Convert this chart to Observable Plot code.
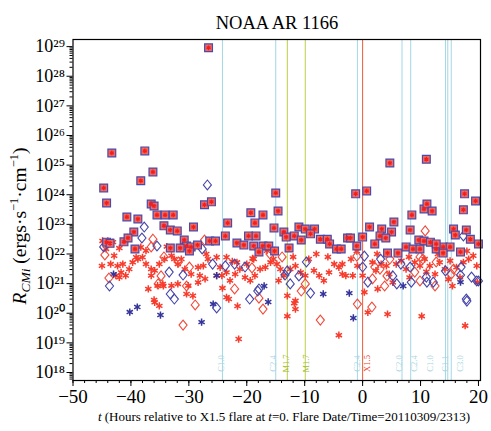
<!DOCTYPE html>
<html><head><meta charset="utf-8">
<script src="https://cdn.jsdelivr.net/npm/d3@7"></script>
<script src="https://cdn.jsdelivr.net/npm/@observablehq/plot@0.6"></script>
<style>
body{margin:0;background:#fff} svg{display:block}
</style>
</head><body><div id="chart"></div>
<script>
const SERIF = "Liberation Serif";
// Flares (hours relative to X1.5 flare)
const flareT      = [-24.2, -15, -13, -9.9, -0.9, 0, 6.8, 8.3, 14.3, 14.7, 15.3];
const flareClass  = ["C1.0","C2.4","M1.7","M1.7","C2.4","X1.5","C2.0","C2.4","C1.0","C1.1","C3.0"];
const flareLabelT = [-24, -15, -12.7, -9.2, -0.5, 1.2, 6.8, 9.4, 12.2, 14.8, 17.4];

// Squares (blue outline, red centre): t, log10 value
const squareT = [-26.6,-43.3,-37.6,-36.2,-38.3,-44.7,-44.2,-36.5,-36.0,-40.7,-38.8,-35.5,-34.1,-32.7,-34.3,-33.2,-32.0,-29.2,-27.3,-39.5,-41.2,-40.5,-44.2,-43.6,-39.3,-33.2,-30.8,-30.4,-29.6,-31.5,-29.9,-28.5,-26.4,-25.4,-26.1,-23.3,-15.0,-14.6,-19.3,-17.2,-18.6,-23.7,-21.7,-20.5,-19.7,-18.4,-18.8,-17.2,-17.9,-16.2,-15.3,-13.6,-13.2,-11.8,-11.0,-9.9,-8.3,-9.0,-10.6,-7.3,-6.1,-12.7,-15.2,-5.7,-4.5,-3.7,4.7,11.0,-1.2,0.7,8.5,10.6,11.1,12.0,17.6,19.5,17.4,5.4,1.2,3.3,5.0,8.2,-2.6,-2.1,0.0,3.0,4.0,2.1,-1.0,9.7,10.6,11.7,15.7,17.9,18.6,16.0,20.0,4.3,6.1,7.5,8.7,9.9,12.7,13.9,15.1,16.9,12.7,13.9];
const squareE = [28.96,25.41,25.48,24.77,24.47,24.23,23.72,23.69,23.62,23.25,23.18,23.32,23.32,23.32,22.95,22.81,22.78,22.91,23.66,22.74,22.41,22.54,22.40,22.36,22.17,22.20,22.47,22.27,22.24,22.20,22.10,22.30,22.44,22.44,23.76,23.05,24.06,23.45,23.39,23.32,23.05,22.61,22.37,22.30,22.61,22.61,22.27,22.27,22.07,22.27,22.88,22.74,22.57,22.61,22.91,22.84,22.84,22.68,22.47,22.50,22.50,22.20,22.10,22.34,22.17,22.17,25.07,25.20,24.03,24.13,23.32,23.52,23.69,23.45,24.03,23.79,23.49,23.08,22.91,22.84,22.74,22.81,22.54,22.54,22.57,22.61,22.54,22.34,22.27,22.47,22.44,22.40,22.84,22.81,22.50,22.64,22.34,22.03,22.03,22.24,22.17,22.17,22.17,22.24,22.24,22.07,22.34,22.03];

// Blue diamonds
const blueDiamondT = [-26.8,-37.7,-38.1,-44.7,-35.5,-43.7,-33.4,-31.0,-33.2,-32.5,-27.7,-23.7,-22.1,-20.3,-25.2,-19.5,-18.1,-25.9,-12.5,-11.0,-9.7,-9.0,-13.0,0.0,0.3,0.9,3.1,5.2,8.2,8.4,11.0,12.2,17.0,17.4,17.9,18.8,19.7,6.6,14.3,-13.4,-17.9,5.9,11.1,16.9,18.0,20.0];
const blueDiamondE = [24.33,22.91,22.54,22.24,22.27,20.92,21.39,21.29,20.65,20.48,22.17,21.60,21.66,21.56,20.18,20.48,20.75,21.66,20.99,21.26,21.73,20.68,21.43,21.56,21.93,21.05,21.83,21.26,21.56,21.05,21.22,21.05,21.56,22.61,20.48,21.22,21.09,21.66,21.43,21.29,20.82,20.99,21.05,21.29,20.41,21.09];

// Red diamonds
const redDiamondT = [-44.5,-43.8,-36.5,-36.2,-34.3,-31.8,-29.9,-27.3,-30.4,-28.9,-31.0,-34.8,-35.3,-22.1,-17.9,-17.2,-19.1,-10.6,-9.9,-7.3,-13.9,-16.0,-0.9,1.6,-1.0,3.0,4.2,10.8,10.4,12.5,15.7,1.7,2.1,3.8,9.0,9.9,15.3,12.7,9.9,4.7];
const redDiamondE = [21.97,21.19,22.24,22.50,21.90,21.73,21.56,22.47,20.92,20.28,19.60,21.26,20.99,20.82,20.51,20.14,21.53,20.75,20.99,19.77,21.90,22.00,20.31,20.21,21.93,21.49,21.26,22.78,21.83,20.92,21.49,21.16,21.56,20.92,21.39,21.09,21.32,21.73,21.90,21.83];

// Blue asterisks
const blueAstT = [-40.2,-38.9,-34.9,-27.8,-43.0,-25.8,-16.3,-6.8,-2.3,-1.6,7.0,16.9,-17.0,-25.2];
const blueAstE = [20.04,20.21,19.94,19.70,21.32,20.31,20.38,20.65,20.68,19.84,20.92,21.05,20.92,21.27];

// Red asterisks
const redAstT = [-44.9,-44.0,-43.1,-44.3,-42.9,-43.5,-42.3,-41.7,-40.9,-40.3,-39.7,-38.8,-38.0,-41.4,-42.6,-42.0,-37.4,-36.5,-35.9,-35.1,-34.2,-33.0,-31.9,-30.7,-29.6,-28.1,-27.2,-35.4,-34.5,-33.0,-31.9,-30.1,-28.4,-36.5,-40.6,-39.1,-38.3,-37.4,-32.5,-31.3,-29.6,-28.4,-27.5,-29.3,-30.4,-35.9,-35.1,-36.0,-37.0,-34.4,
 -26.7,-25.2,-24.6,-24.3,-23.5,-22.9,-22.0,-21.2,-20.3,-19.4,-18.6,-17.7,-16.8,-15.9,-15.4,-14.8,-14.2,-13.6,-14.5,-12.5,-11.6,-10.7,-9.9,-9.3,-8.4,-7.5,-6.7,-5.8,-4.9,-4.1,-3.5,-16.5,-15.7,-18.8,-20.0,-23.5,-21.7,-25.2,-23.5,-13.0,-11.6,-11.6,-21.4,-13.0,-4.1,-23.1,-21.6,-24.2,-11.8,
 -3.5,-2.9,-2.0,-0.9,0.0,0.3,0.9,1.7,2.3,3.2,4.1,4.6,5.2,5.8,6.7,7.5,8.1,9.0,9.9,10.7,11.6,12.5,13.3,14.2,15.1,16.2,16.8,17.4,18.3,19.1,19.7,4.3,10.2,17.7,-1.7,2.6,19.8,15.5,
 6.0,13.0,-6.0,-1.0,18.0,2.5,11.0,8.0,14.8,-8.0,-12.0,-19.0,-22.5,-27.0,-33.8,-42.0,-45.0];
const redAstE = [22.44,22.44,22.40,22.17,21.94,21.66,21.60,21.38,21.27,21.49,21.72,21.83,21.89,21.66,21.27,21.21,21.66,21.27,21.44,21.66,21.83,21.94,21.66,21.49,21.32,21.27,21.16,20.93,20.99,20.93,20.99,20.93,21.04,21.49,22.56,21.89,22.23,22.11,21.83,21.83,22.17,21.55,21.60,20.59,20.65,20.37,20.25,20.45,20.82,20.92,
 21.83,21.89,21.55,21.27,21.38,21.10,21.32,21.49,21.21,21.10,21.27,21.49,21.55,21.72,21.83,21.66,21.49,21.27,21.10,21.49,21.60,21.38,21.27,21.83,21.44,21.27,21.10,21.38,21.66,21.55,21.32,22.11,22.17,21.83,21.66,21.89,21.72,21.27,20.54,20.59,20.42,20.14,19.13,19.90,19.26,20.48,20.24,20.85,20.34,
 21.66,21.27,21.83,21.60,21.27,20.71,20.03,21.72,21.44,21.66,21.60,21.32,21.04,21.66,21.77,21.49,21.21,21.72,21.60,21.83,21.60,21.32,21.72,21.49,21.77,21.55,21.21,21.72,21.83,21.94,21.60,19.97,19.90,19.58,21.27,20.82,21.05,20.92,
 22.00,22.00,21.90,22.10,22.10,22.00,21.40,21.90,21.15,22.00,21.90,21.85,21.75,22.00,22.25,22.20,21.60];

const yTicks = d3.range(18, 30);
const xTicks = d3.range(-50, 21, 10);

const zip = (T, E) => T.map((t, i) => ({t, v: 10 ** E[i]}));
const squares = zip(squareT, squareE);
const blueDiamonds = zip(blueDiamondT, blueDiamondE);
const redDiamonds = zip(redDiamondT, redDiamondE);
const blueAst = zip(blueAstT, blueAstE);
const redAst = zip(redAstT, redAstE);
const flares = flareT.map((t, i) => ({t, cls: flareClass[i], lt: flareLabelT[i]}));

const lineColor = c => c[0] === "X" ? "#ec5b3c" : c[0] === "M" ? "#bccf48" : "#a3d7e6";
const textColor = c => c[0] === "X" ? "#e8402a" : c[0] === "M" ? "#a3ba2c" : "#a8d4e2";

const SUP = "⁰¹²³⁴⁵⁶⁷⁸⁹";
const sup = n => String(n).split("").map(ch => SUP["0123456789".indexOf(ch)]).join("");

const diamondSym = {draw(ctx, size) {
  const r = Math.sqrt(size / Math.PI);
  const w = r * 0.9, h = r * 1.1;
  ctx.moveTo(0, -h); ctx.lineTo(w, 0); ctx.lineTo(0, h); ctx.lineTo(-w, 0); ctx.closePath();
}};

const minorY = [];
for (const e of d3.range(17, 30)) for (let k = 2; k <= 9; k++) {
  const v = k * 10 ** e;
  if (v > 10 ** 17.73 && v < 10 ** 29.24) minorY.push(v);
}

const chart = Plot.plot({
  width: 491, height: 431,
  marginLeft: 72.5, marginRight: 11, marginTop: 39, marginBottom: 51,
  style: {fontFamily: SERIF, background: "white", color: "black", overflow: "visible"},
  x: {domain: [-50, 20.35], axis: null},
  y: {type: "log", domain: [10 ** 17.73, 10 ** 29.24], axis: null},
  marks: [
    Plot.ruleX(flares, {x: "t", stroke: d => lineColor(d.cls), strokeWidth: 1}),
    Plot.text(flares, {x: "lt", frameAnchor: "bottom", dy: -17, rotate: -90, text: "cls",
      fill: d => textColor(d.cls), fontSize: 8.5, fontFamily: SERIF}),
    Plot.dot(redAst, {x: "t", y: "v", symbol: "asterisk", r: 3.4, stroke: "#f73b2c", strokeWidth: 1.5}),
    Plot.dot(blueAst, {x: "t", y: "v", symbol: "asterisk", r: 3.4, stroke: "#34349a", strokeWidth: 1.5}),
    Plot.dot(redDiamonds, {x: "t", y: "v", symbol: diamondSym, r: 4.5, stroke: "#f04a3a", fill: "none", strokeWidth: 1.1}),
    Plot.dot(blueDiamonds, {x: "t", y: "v", symbol: diamondSym, r: 4.5, stroke: "#4646aa", fill: "none", strokeWidth: 1.1}),
    Plot.dot(squares, {x: "t", y: "v", symbol: "square", r: 4.4, stroke: "#4a4aa8", fill: "#f46a5e", strokeWidth: 1.2}),
    Plot.dot(squares, {x: "t", y: "v", symbol: "asterisk", r: 2.2, stroke: "#f21e1e", strokeWidth: 1.3}),
    Plot.frame({stroke: "black", strokeWidth: 1.2}),
    Plot.axisX({ticks: xTicks, tickSize: 6, tickPadding: 3, fontSize: 19, fontFamily: SERIF, label: null,
      tickFormat: d => d < 0 ? "\u2212" + (-d) : String(d)}),
    Plot.axisX({ticks: d3.range(-50, 21, 2), tickSize: 3, label: null, tickFormat: () => ""}),
    Plot.axisY({ticks: yTicks.map(e => 10 ** e), tickSize: 6, tickPadding: 2, fontSize: 18, fontFamily: SERIF, label: null,
      tickFormat: d => "10" + sup(Math.round(Math.log10(d)))}),
    Plot.axisY({ticks: minorY, tickSize: 3, label: null, tickFormat: () => ""})
  ]
});

const svg = d3.select(chart);
svg.selectAll("text").attr("font-family", SERIF).style("font-family", SERIF).attr("font-variant", null);
svg.selectAll("g").attr("font-variant", null).attr("font-family", SERIF);

svg.append("text").attr("x", 277).attr("y", 29).attr("text-anchor", "middle")
  .style("font-size", "18.5px").style("font-family", SERIF).text("NOAA AR 1166");

const yl = svg.append("text").attr("transform", "translate(26,226) rotate(-90)")
  .attr("text-anchor", "middle").style("font-size", "19.5px").style("font-family", SERIF);
yl.append("tspan").style("font-style", "italic").text("R");
yl.append("tspan").style("font-style", "italic").style("font-size", "13.5px").attr("dy", 4).text("CMi");
yl.append("tspan").attr("dy", -4).text(" (ergs·s");
yl.append("tspan").style("font-size", "12.5px").attr("dy", -8).text("−1");
yl.append("tspan").attr("dy", 8).text("·cm");
yl.append("tspan").style("font-size", "12.5px").attr("dy", -8).text("−1");
yl.append("tspan").attr("dy", 8).text(")");

const xl = svg.append("text").attr("x", 284).attr("y", 421).attr("text-anchor", "middle")
  .style("font-size", "13px").style("font-family", SERIF);
xl.append("tspan").style("font-style", "italic").text("t");
xl.append("tspan").text(" (Hours relative to X1.5 flare at ");
xl.append("tspan").style("font-style", "italic").text("t");
xl.append("tspan").text("=0. Flare Date/Time=20110309/2313)");

document.getElementById("chart").append(chart);
</script>
</body></html>
